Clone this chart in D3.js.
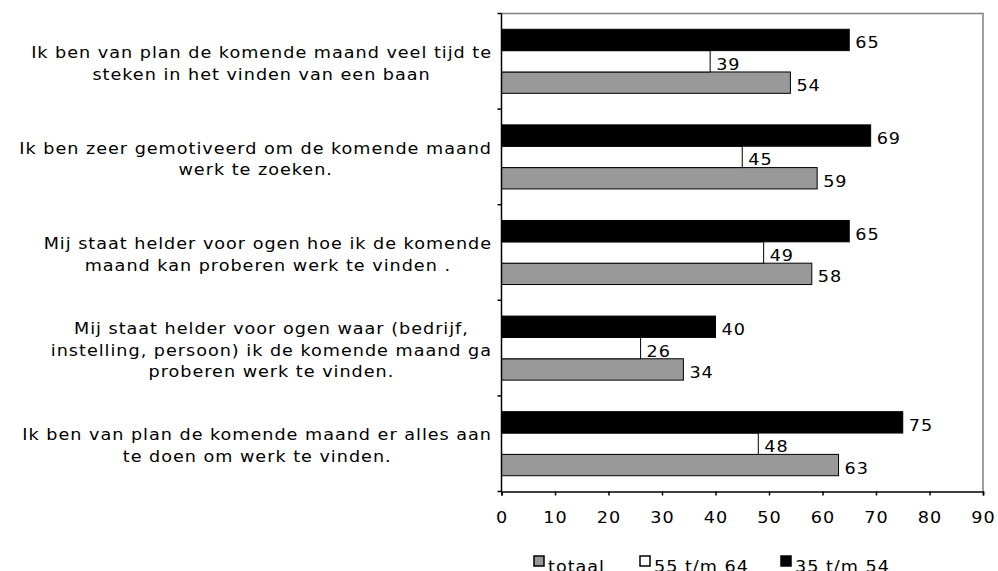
<!DOCTYPE html>
<html>
<head>
<meta charset="utf-8">
<script src="https://cdn.jsdelivr.net/npm/d3@7"></script>
<style>
  body { margin: 0; background: #fff; }
  text { font-family: Verdana, "DejaVu Sans", sans-serif; fill: #000; letter-spacing: 0.9px; }
</style>
</head>
<body>
<div id="chart"></div>
<script>
width = 998;
height = 571;

// categories, top to bottom
var categories = [
  ["Ik ben van plan de komende maand veel tijd te", "steken in het vinden van een baan"],
  ["Ik ben zeer gemotiveerd om de komende maand", "werk te zoeken."],
  ["Mij staat helder voor ogen hoe ik de komende", "maand kan proberen werk te vinden ."],
  ["Mij staat helder voor ogen waar (bedrijf,", "instelling, persoon) ik de komende maand ga", "proberen werk te vinden."],
  ["Ik ben van plan de komende maand er alles aan", "te doen om werk te vinden."]
];

var seriesNames = ["totaal", "55 t/m 64", "35 t/m 54"];
var totaal = [54, 59, 58, 34, 63];
var age55to64 = [39, 45, 49, 26, 48];
var age35to54 = [65, 69, 65, 40, 75];
var xTicks = [0, 10, 20, 30, 40, 50, 60, 70, 80, 90];

var seriesFill = {"totaal": "#999999", "55 t/m 64": "#ffffff", "35 t/m 54": "#000000"};
var seriesValues = {"totaal": totaal, "55 t/m 64": age55to64, "35 t/m 54": age35to54};

// the original font is wider than DejaVu Sans: stretch glyphs a little
function widen(sel) {
  sel.each(function() {
    var len = this.getComputedTextLength();
    d3.select(this)
      .attr("textLength", len * 1.1)
      .attr("lengthAdjust", "spacingAndGlyphs");
  });
}

const svg = d3.select("#chart")
  .append("svg")
  .attr("width", width)
  .attr("height", height);

var plotLeft = 501.5, plotRight = 983, plotTop = 13.5, plotBottom = 491.5;

var x = d3.scaleLinear().domain([0, 90]).range([plotLeft, plotRight]);

var y = d3.scaleBand()
  .domain(d3.range(categories.length))
  .range([plotTop, plotBottom])
  .paddingInner(0.33)
  .paddingOuter(0.165);

// bars inside a group: black on top, grey at the bottom
var yInner = d3.scaleBand()
  .domain(seriesNames.slice().reverse())
  .range([0, y.bandwidth()]);

// plot area border (top and right, grey)
svg.append("path")
  .attr("d", "M" + plotLeft + "," + plotTop + "H" + plotRight + "V" + plotBottom)
  .attr("fill", "none")
  .attr("stroke", "#808080")
  .attr("stroke-width", 1.5);

// bars
var groups = svg.selectAll("g.cat")
  .data(d3.range(categories.length))
  .enter().append("g")
    .attr("class", "cat")
    .attr("transform", function(i) { return "translate(0," + y(i) + ")"; });

seriesNames.forEach(function(s) {
  groups.append("rect")
    .attr("x", x(0))
    .attr("y", yInner(s))
    .attr("width", function(i) { return x(seriesValues[s][i]) - x(0); })
    .attr("height", yInner.bandwidth())
    .attr("fill", seriesFill[s])
    .attr("stroke", "#000")
    .attr("stroke-width", 1);

  groups.append("text")
    .attr("class", "val")
    .attr("x", function(i) { return x(seriesValues[s][i]) + 6; })
    .attr("y", yInner(s) + yInner.bandwidth() / 2 + 3)
    .attr("dominant-baseline", "central")
    .style("font-size", "16px")
    .text(function(i) { return seriesValues[s][i]; });
});
widen(svg.selectAll("text.val"));

// x axis
var xAxis = d3.axisBottom(x)
  .tickValues(xTicks)
  .tickSize(4)
  .tickPadding(16);

var gx = svg.append("g")
  .attr("transform", "translate(0," + plotBottom + ")")
  .call(xAxis);
gx.select(".domain").attr("stroke", "#000").attr("stroke-width", 1.5);
gx.selectAll(".tick line").attr("stroke", "#000").attr("stroke-width", 1.5);
gx.selectAll(".tick text")
  .style("font-family", "Verdana, 'DejaVu Sans', sans-serif")
  .style("font-size", "16px");
widen(gx.selectAll(".tick text"));

// y axis line and ticks at category boundaries
var step = y.step();
var boundaries = d3.range(categories.length + 1).map(function(i) { return plotTop + i * step; });

svg.append("line")
  .attr("x1", plotLeft).attr("x2", plotLeft)
  .attr("y1", plotTop).attr("y2", plotBottom)
  .attr("stroke", "#000").attr("stroke-width", 1.5);

svg.selectAll("line.ytick")
  .data(boundaries)
  .enter().append("line")
    .attr("class", "ytick")
    .attr("x1", plotLeft - 4).attr("x2", plotLeft)
    .attr("y1", function(d) { return d; })
    .attr("y2", function(d) { return d; })
    .attr("stroke", "#000").attr("stroke-width", 1.5);

// category labels, centred block, right edge next to the axis
var lineHeight = 21.5;
categories.forEach(function(lines, i) {
  var g = svg.append("g");
  var cy = y(i) + y.bandwidth() / 2 + 2;
  lines.forEach(function(l, j) {
    g.append("text")
      .attr("x", 0)
      .attr("y", cy + (j - (lines.length - 1) / 2) * lineHeight)
      .attr("text-anchor", "middle")
      .attr("dominant-baseline", "central")
      .style("font-size", "16px")
      .text(l);
  });
  widen(g.selectAll("text"));
  var bb = g.node().getBBox();
  g.attr("transform", "translate(" + (492 - (bb.x + bb.width)) + ",0)");
});

// legend
var legendX = [534, 640, 781];
var legend = svg.selectAll("g.legend")
  .data(seriesNames)
  .enter().append("g")
    .attr("class", "legend")
    .attr("transform", function(d, i) { return "translate(" + legendX[i] + ",556)"; });

legend.append("rect")
  .attr("width", 10).attr("height", 10)
  .attr("fill", function(d) { return seriesFill[d]; })
  .attr("stroke", "#000")
  .attr("stroke-width", 1.5);

legend.append("text")
  .attr("x", 14)
  .attr("y", 16)
  .style("font-size", "16px")
  .text(function(d) { return d; });
widen(legend.selectAll("text"));
</script>
</body>
</html>
